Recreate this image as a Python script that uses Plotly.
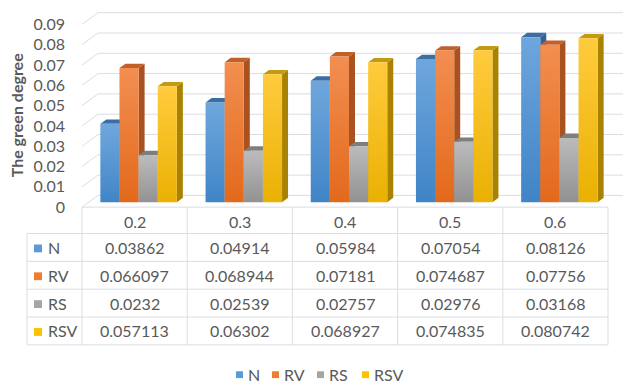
import plotly.graph_objects as go

# ---- data -------------------------------------------------------------
categories = ["0.2", "0.3", "0.4", "0.5", "0.6"]
series_names = ["N", "RV", "RS", "RSV"]
n_vals = [0.03862, 0.04914, 0.05984, 0.07054, 0.08126]
rv_vals = [0.066097, 0.068944, 0.07181, 0.074687, 0.07756]
rs_vals = [0.0232, 0.02539, 0.02757, 0.02976, 0.03168]
rsv_vals = [0.057113, 0.06302, 0.068927, 0.074835, 0.080742]
y_ticks = [0, 0.01, 0.02, 0.03, 0.04, 0.05, 0.06, 0.07, 0.08, 0.09]
y_tick_labels = ["0", "0.01", "0.02", "0.03", "0.04", "0.05", "0.06", "0.07", "0.08", "0.09"]
y_title = "The green degree"

series_values = [n_vals, rv_vals, rs_vals, rsv_vals]

# ---- styling ----------------------------------------------------------
# (front top, front bottom, side face, top face, key colour)
palette = [
    ("#6EA6DC", "#3E83C6", "#2F6296", "#3B6EA2", "#5B9BD5"),
    ("#F28E50", "#E2681A", "#A9521F", "#C2602A", "#ED7D31"),
    ("#B9B9B9", "#8E8E8E", "#6E6E6E", "#7E7E7E", "#A5A5A5"),
    ("#FFCB3D", "#E9B000", "#A88200", "#C49A10", "#FFC000"),
]
TEXT = "#595959"
GRID = "#D9DDE3"
FONT = "Lato"

W, H = 623, 392
FLOOR_Y = 212          # front edge of the floor (px from top)
K = 2078.0             # px per value unit on the front plane
COL_LEFT, COL_W = 82.0, 105.2
WALL_DX, WALL_DY = 16.0, 12.0      # back wall offset
BAR_DX, BAR_DY = 4.0, 5.0          # bar front plane offset
DEP_DX, DEP_DY = 6.0, 4.5          # bar depth
GAP = 1.5                          # gap width relative to one bar

ROW_Y = [212, 239, 267.5, 296, 324.5, 353]
KEY_LEFT = 27

def ux(px):
    return px / COL_W

def uy(px):
    return px / K

def px_x(px):
    return px / W

def px_y(py):
    return 1 - py / H

x_range = [(0 - COL_LEFT) / COL_W - 0.5, (W - COL_LEFT) / COL_W - 0.5]
y_range = [0, FLOOR_Y / K]

fig = go.Figure()

# ---- walls: gridlines on the back wall + side wall diagonals ----------
gx, gy = [], []
x_front_left = -0.5
x_back_left = -0.5 + ux(WALL_DX)
x_back_right = len(categories) - 0.5 + ux(WALL_DX)
for v in y_ticks:
    gx += [x_front_left, x_back_left, x_back_right, None]
    gy += [v, v + uy(WALL_DY), v + uy(WALL_DY), None]
fig.add_trace(go.Scatter(x=gx, y=gy, mode="lines", line=dict(color=GRID, width=1),
                         hoverinfo="skip", showlegend=False))

# ---- 3D bars ----------------------------------------------------------
bw = 1.0 / (len(series_names) + GAP)
base = uy(BAR_DY)
ddx, ddy = ux(DEP_DX), uy(DEP_DY)
for i in range(len(categories)):
    center = i + ux(BAR_DX)
    for s, vals in enumerate(series_values):
        top_c, bot_c, side_c, lid_c, _ = palette[s]
        x0 = center + (s - len(series_names) / 2) * bw
        x1 = x0 + bw
        y0, y1 = base, base + vals[i]
        # side face
        fig.add_trace(go.Scatter(
            x=[x1, x1, x1 + ddx, x1 + ddx, x1], y=[y0, y1, y1 + ddy, y0 + ddy, y0],
            mode="lines", fill="toself", fillcolor=side_c, line=dict(width=0),
            hoverinfo="skip", showlegend=False))
        # top face
        fig.add_trace(go.Scatter(
            x=[x0, x1, x1 + ddx, x0 + ddx, x0], y=[y1, y1, y1 + ddy, y1 + ddy, y1],
            mode="lines", fill="toself", fillcolor=lid_c, line=dict(width=0),
            hoverinfo="skip", showlegend=False))
        # front face with vertical gradient
        fig.add_trace(go.Scatter(
            x=[x0, x1, x1, x0, x0], y=[y0, y0, y1, y1, y0],
            mode="lines", fill="toself", line=dict(width=0),
            fillgradient=dict(type="vertical", colorscale=[[0, bot_c], [1, top_c]],
                              start=y0, stop=y1),
            name=series_names[s], hoverinfo="skip", showlegend=False))

# ---- data table -------------------------------------------------------
shapes = []
line_style = dict(color=GRID, width=1)
x_cols = [COL_LEFT + COL_W * k for k in range(len(categories) + 1)]
# horizontal rules
shapes.append(dict(type="line", xref="paper", yref="paper",
                   x0=px_x(COL_LEFT), x1=px_x(x_cols[-1]),
                   y0=px_y(ROW_Y[0]), y1=px_y(ROW_Y[0]), line=line_style))
for ry in ROW_Y[1:]:
    shapes.append(dict(type="line", xref="paper", yref="paper",
                       x0=px_x(KEY_LEFT), x1=px_x(x_cols[-1]),
                       y0=px_y(ry), y1=px_y(ry), line=line_style))
# vertical rules
shapes.append(dict(type="line", xref="paper", yref="paper",
                   x0=px_x(KEY_LEFT), x1=px_x(KEY_LEFT),
                   y0=px_y(ROW_Y[1]), y1=px_y(ROW_Y[-1]), line=line_style))
for cx in x_cols:
    shapes.append(dict(type="line", xref="paper", yref="paper",
                       x0=px_x(cx), x1=px_x(cx),
                       y0=px_y(ROW_Y[0]), y1=px_y(ROW_Y[-1]), line=line_style))

annotations = []
tfont = dict(family=FONT, size=16, color=TEXT)
for k, cat in enumerate(categories):
    annotations.append(dict(xref="paper", yref="paper", showarrow=False,
                            x=px_x(x_cols[k] + COL_W / 2),
                            y=px_y((ROW_Y[0] + ROW_Y[1]) / 2 + 1),
                            text=cat, font=tfont, xanchor="center", yanchor="middle"))
for s, vals in enumerate(series_values):
    cy = (ROW_Y[s + 1] + ROW_Y[s + 2]) / 2
    key = palette[s][4]
    shapes.append(dict(type="rect", xref="paper", yref="paper",
                       x0=px_x(34), x1=px_x(42), y0=px_y(cy - 3), y1=px_y(cy + 5),
                       fillcolor=key, line=dict(width=0)))
    annotations.append(dict(xref="paper", yref="paper", showarrow=False,
                            x=px_x(46), y=px_y(cy), text=series_names[s], font=tfont,
                            xanchor="left", yanchor="middle"))
    for k, v in enumerate(vals):
        annotations.append(dict(xref="paper", yref="paper", showarrow=False,
                                x=px_x(x_cols[k] + COL_W / 2), y=px_y(cy),
                                text=str(v), font=tfont, xanchor="center", yanchor="middle"))

# ---- legend -----------------------------------------------------------
legend_key_left = [236, 272, 317, 362]
LEG_Y = 383
for s, name in enumerate(series_names):
    kx = legend_key_left[s]
    shapes.append(dict(type="rect", xref="paper", yref="paper",
                       x0=px_x(kx), x1=px_x(kx + 7), y0=px_y(LEG_Y - 3), y1=px_y(LEG_Y + 4),
                       fillcolor=palette[s][4], line=dict(width=0)))
    annotations.append(dict(xref="paper", yref="paper", showarrow=False,
                            x=px_x(kx + 10), y=px_y(LEG_Y), text=name, font=tfont,
                            xanchor="left", yanchor="middle"))

# ---- axis title -------------------------------------------------------
annotations.append(dict(xref="paper", yref="paper", showarrow=False,
                        x=px_x(16), y=px_y(118), text="<b>" + y_title + "</b>",
                        textangle=-90, font=dict(family=FONT, size=16, color=TEXT),
                        xanchor="center", yanchor="middle"))

fig.update_layout(
    width=W, height=H,
    margin=dict(l=0, r=0, t=0, b=0),
    paper_bgcolor="white", plot_bgcolor="rgba(0,0,0,0)",
    showlegend=False,
    xaxis=dict(range=x_range, domain=[0, 1], visible=False, fixedrange=True),
    yaxis=dict(range=y_range, domain=[1 - FLOOR_Y / H, 1], anchor="free",
               position=COL_LEFT / W, side="left",
               tickvals=y_ticks, ticktext=y_tick_labels,
               showgrid=False, zeroline=False, showline=False, ticks="",
               ticklabelstandoff=17,
               tickfont=dict(family=FONT, size=16, color=TEXT), fixedrange=True),
    shapes=shapes,
    annotations=annotations,
)

fig.write_html("out.html")
